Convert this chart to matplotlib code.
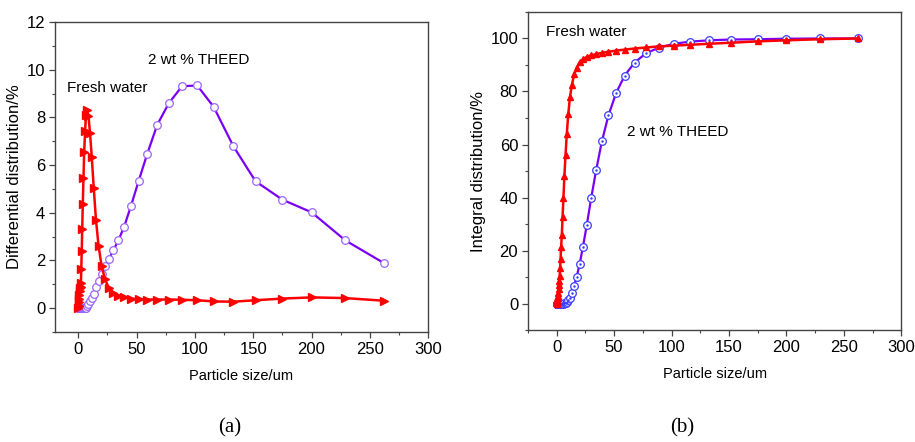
import matplotlib
matplotlib.use("Agg")
import matplotlib.pyplot as plt
from matplotlib.ticker import MultipleLocator

plt.rcParams['font.family'] = ['Liberation Sans', 'DejaVu Sans']

# particle size bins (um), same for both samples
size = [0.0, 0.3, 0.5, 0.7, 1.0, 1.3, 1.6, 2.0, 2.3, 2.6, 3.0, 3.4, 3.9, 4.5,
        5.1, 5.9, 6.7, 7.7, 8.8, 10.1, 11.6, 13.3, 15.2, 17.4, 20.0, 22.9,
        26.2, 30.0, 34.4, 39.4, 45.1, 51.7, 59.2, 67.8, 77.7, 89.0, 102, 116,
        133, 152, 175, 200, 229, 262]

# (a) differential distribution, %
water_diff = [0.0, 0.1, 0.25, 0.4, 0.55, 0.7, 0.85, 0.9, 1.05, 1.63, 2.4, 3.3,
              4.35, 5.45, 6.55, 7.45, 8.12, 8.3, 8.05, 7.35, 6.34, 5.04, 3.71,
              2.62, 1.78, 1.22, 0.85, 0.65, 0.52, 0.45, 0.40, 0.37, 0.36, 0.36,
              0.36, 0.35, 0.33, 0.28, 0.27, 0.33, 0.40, 0.45, 0.42, 0.31]
theed_diff = [0.0, 0.0, 0.0, 0.0, 0.0, 0.0, 0.0, 0.0, 0.0, 0.0, 0.0, 0.0, 0.0,
              0.0, 0.0, 0.0, 0.02, 0.07, 0.17, 0.31, 0.42, 0.59, 0.88, 1.12,
              1.44, 1.75, 2.04, 2.42, 2.84, 3.42, 4.27, 5.32, 6.48, 7.70, 8.6,
              9.31, 9.34, 8.45, 6.79, 5.32, 4.55, 4.02, 2.84, 1.89]

# (b) integral distribution, %
water_int = [0.0, 0.5, 1.2, 2.0, 3.0, 4.2, 5.5, 7.0, 8.5, 10.5, 13.5, 17.0,
             21.5, 26.0, 32.5, 40.0, 48.0, 56.0, 64.0, 71.5, 78.0, 82.5, 86.5,
             89.0, 91.0, 92.2, 93.0, 93.6, 94.1, 94.6, 95.0, 95.4, 95.8, 96.2,
             96.6, 97.0, 97.3, 97.6, 98.0, 98.4, 98.9, 99.3, 99.7, 100.0]
theed_int = [0.0, 0.0, 0.0, 0.0, 0.0, 0.0, 0.0, 0.0, 0.0, 0.0, 0.0, 0.0, 0.0,
             0.0, 0.0, 0.0, 0.1, 0.3, 0.7, 1.3, 2.3, 4.0, 6.6, 10.1, 14.9,
             21.5, 29.6, 39.7, 50.4, 61.3, 71.0, 79.4, 86.0, 90.9, 94.4, 96.5,
             98.0, 98.8, 99.3, 99.6, 99.7, 99.9, 100.0, 100.0]

fig = plt.figure(figsize=(9.15, 4.42), dpi=100)
ax1 = fig.add_axes([0.060, 0.249, 0.408, 0.701])
ax2 = fig.add_axes([0.577, 0.253, 0.408, 0.720])

red = '#ff0000'
purple = '#7a00f5'

# (a)
ax1.plot(size, theed_diff, color=purple, lw=1.6, marker='o', ms=5.5,
         mfc='white', mec='#9a66ff', mew=0.9, zorder=2)
ax1.plot(size, water_diff, color=red, lw=1.8, marker='>', ms=5.5,
         mfc=red, mec=red, zorder=3)
ax1.set_xlim(-20, 300)
ax1.set_ylim(-1, 12)
ax1.xaxis.set_major_locator(MultipleLocator(50))
ax1.xaxis.set_minor_locator(MultipleLocator(25))
ax1.yaxis.set_major_locator(MultipleLocator(2))
ax1.yaxis.set_minor_locator(MultipleLocator(1))
ax1.set_xlabel("Particle size/um", fontsize=10.5, labelpad=9)
ax1.set_ylabel("Differential distribution/%", fontsize=12, labelpad=3)
ax1.text(-10, 9.24, "Fresh water", fontsize=11, va='center')
ax1.text(60, 10.42, "2 wt % THEED", fontsize=11, va='center')

# (b)
ax2.plot(size, theed_int, color=purple, lw=1.6, marker='o', ms=5.5,
         mfc='white', mec='#3d3dff', mew=0.9, zorder=2)
ax2.plot(size, theed_int, ls='none', marker='.', ms=1.5, color='#3d3dff',
         zorder=2)
ax2.plot(size, water_int, color=red, lw=1.8, marker='^', ms=5,
         mfc=red, mec=red, zorder=3)
ax2.set_xlim(-25, 300)
ax2.set_ylim(-10, 110)
ax2.xaxis.set_major_locator(MultipleLocator(50))
ax2.xaxis.set_minor_locator(MultipleLocator(25))
ax2.yaxis.set_major_locator(MultipleLocator(20))
ax2.yaxis.set_minor_locator(MultipleLocator(10))
ax2.set_xlabel("Particle size/um", fontsize=10.5, labelpad=9)
ax2.set_ylabel("Integral distribution/%", fontsize=12, labelpad=3)
ax2.text(-9, 102.3, "Fresh water", fontsize=11, va='center')
ax2.text(61, 64.8, "2 wt % THEED", fontsize=11, va='center')

for ax in (ax1, ax2):
    for sp in ax.spines.values():
        sp.set_color('#444444')
        sp.set_linewidth(1.0)
    ax.tick_params(which='major', direction='out', length=4, width=0.9,
                   labelsize=12, colors='#444444', labelcolor='black', pad=3)
    ax.tick_params(which='minor', direction='out', length=2.5, width=0.8,
                   colors='#444444')

fig.text(0.251, 0.032, "(a)", fontsize=15, family=['Liberation Serif', 'DejaVu Serif'],
         ha='center', va='center')
fig.text(0.746, 0.032, "(b)", fontsize=15, family=['Liberation Serif', 'DejaVu Serif'],
         ha='center', va='center')

fig.savefig("out.png", dpi=100, facecolor='white')
